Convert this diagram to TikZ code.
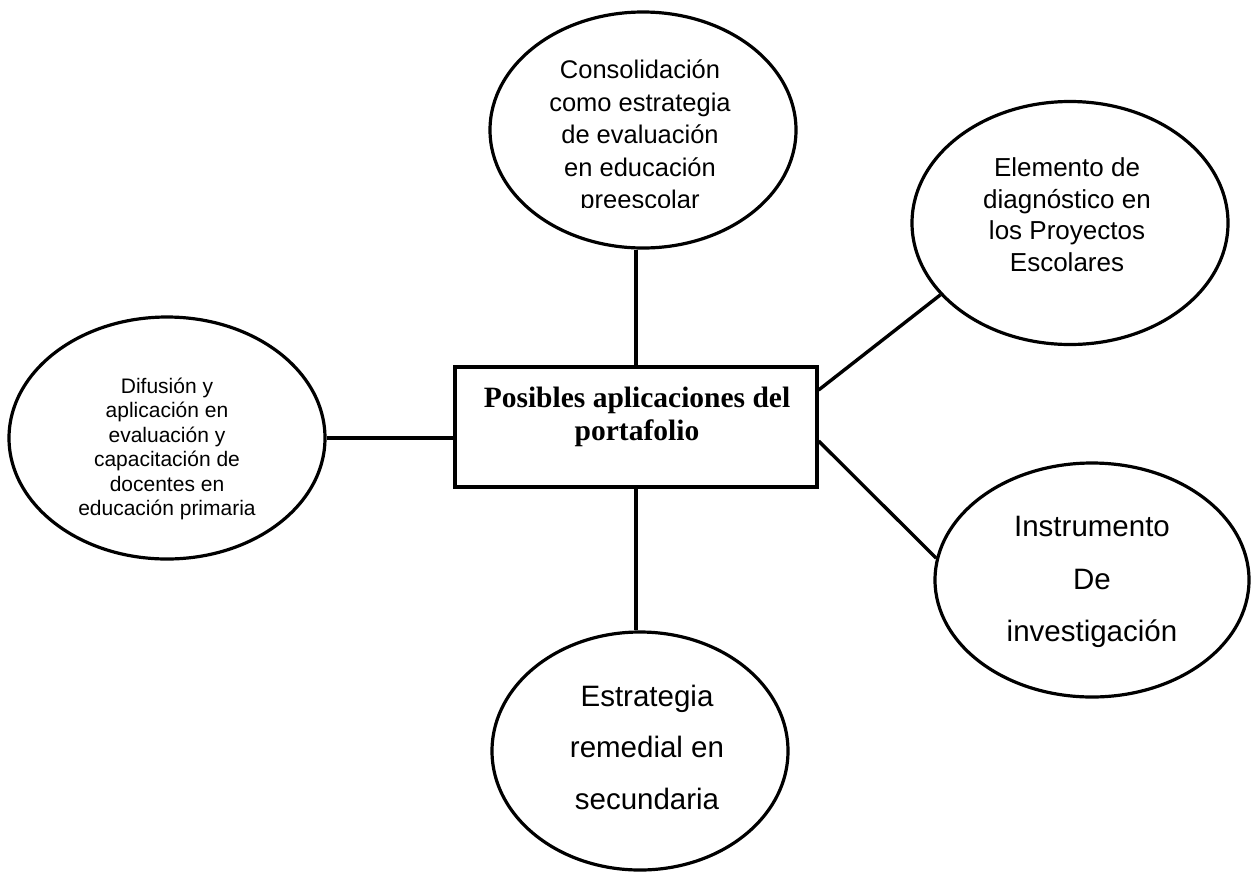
\documentclass[tikz,border=0pt]{standalone}
\usepackage{fontspec}
\setmainfont{Liberation Serif}
\newfontfamily\sansf{Liberation Sans}
\usetikzlibrary{shapes.geometric}
\tikzset{
  bubble/.style={draw, ellipse, line width=3.2pt, inner sep=0pt},
  titlebox/.style={draw, rectangle, line width=3.2pt, inner sep=0pt},
  link/.style={line width=3.4pt},
  txt/.style={align=center, inner sep=0pt},
}
\begin{document}
\begin{tikzpicture}[x=1pt,y=-1pt]
\useasboundingbox (0,0) rectangle (1260,873);
% shapes
\node[titlebox, minimum width=362pt, minimum height=120pt] (box) at (636,427) {};
\node[bubble, minimum width=306pt, minimum height=236pt] (top) at (643,130) {};
\node[bubble, minimum width=316pt, minimum height=243pt] (rt) at (1070,223) {};
\node[bubble, minimum width=316pt, minimum height=242pt] (lft) at (167,438) {};
\node[bubble, minimum width=314pt, minimum height=234pt] (rb) at (1092,580) {};
\node[bubble, minimum width=296pt, minimum height=238pt] (bot) at (640,751) {};
% texts
\node[txt, font=\bfseries\fontsize{29.5}{33}\selectfont] (ttitle) at (637,416.5) {Posibles aplicaciones del\\portafolio};
\begin{scope}
\clip (400,0) rectangle (900,207);
\node[txt, font=\sansf\fontsize{25.5}{32.5}\selectfont] (ttop) at (640,137) {Consolidación\\como estrategia\\de evaluación\\en educación\\preescolar};
\end{scope}
\node[txt, font=\sansf\fontsize{26}{31.5}\selectfont] (trt) at (1067,214.5) {Elemento de\\diagnóstico en\\los Proyectos\\Escolares};
\node[txt, font=\sansf\fontsize{21}{24.5}\selectfont] (tlft) at (167,449) {Difusión y\\aplicación en\\evaluación y\\capacitación de\\docentes en\\educación primaria};
\node[txt, font=\sansf\fontsize{29.5}{52.5}\selectfont] (trb) at (1092,582) {Instrumento\\De\\investigación};
\node[txt, font=\sansf\fontsize{29.5}{51.5}\selectfont] (tbot) at (647,747) {Estrategia\\remedial en\\secundaria};
% connectors
\draw[link] (box.north) -- (box.north |- top.south);
\draw[link] (box.south) -- (box.south |- bot.north);
\draw[link] (lft.east) -- (lft.east -| box.west);
\draw[link] ([yshift=37pt]box.east) -- (rt.209);
\draw[link] ([yshift=-14pt]box.east) -- (rb.172);
\end{tikzpicture}
\end{document}
